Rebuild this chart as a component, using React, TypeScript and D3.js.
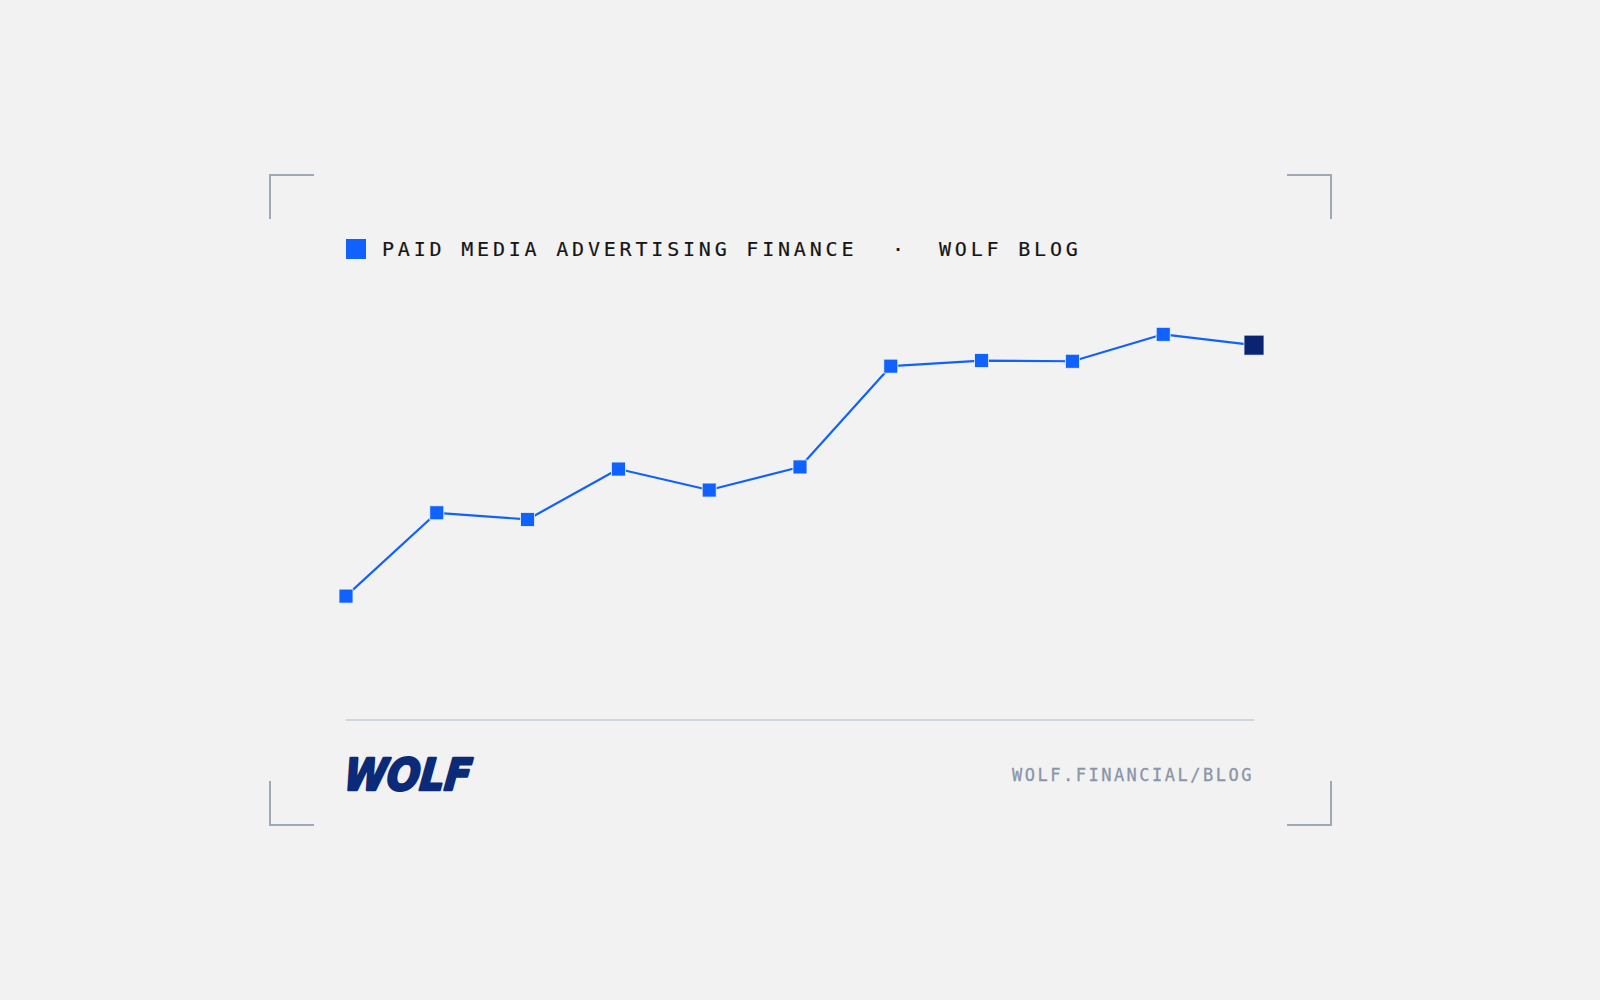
import * as d3 from 'd3'

// series (index units, no axis shown)
const periods = ['P1', 'P2', 'P3', 'P4', 'P5', 'P6', 'P7', 'P8', 'P9', 'P10', 'P11']
const values = [15.4, 39.2, 37.3, 51.7, 45.7, 52.3, 81.1, 82.7, 82.5, 90.2, 87.1]

const titleText = 'PAID MEDIA ADVERTISING FINANCE'
const subText = 'WOLF BLOG'
const urlText = 'WOLF.FINANCIAL/BLOG'
const logoText = 'WOLF'

const W = 1600
const H = 1000
const blue = '#0f62fe'
const navy = '#0a2472'
const bracket = '#a0a8b6'

export default function App() {
    const x = d3.scalePoint<string>().domain(periods).range([346, 1254])
    const y = d3.scaleLinear().domain([0, 100]).range([650, 300])

    const line = d3.line<number>()
        .x((d, i) => x(periods[i]) as number)
        .y(d => y(d))

    const last = values.length - 1
    const arm = 44

    // corner brackets
    const corners = [
        `M${270},${175 + arm} L270,175 L${270 + arm},175`,
        `M${1331 - arm},175 L1331,175 L1331,${175 + arm}`,
        `M270,${825 - arm} L270,825 L${270 + arm},825`,
        `M${1331 - arm},825 L1331,825 L1331,${825 - arm}`,
    ]

    return (
        <svg width={W} height={H} style={{ position: 'absolute', left: 0, top: 0, background: '#f2f2f2' }}>
            <rect x={0} y={0} width={W} height={H} fill="#f2f2f2" />
            {corners.map((d, i) => (
                <path key={i} d={d} fill="none" stroke={bracket} strokeWidth={2} />
            ))}

            {/* title */}
            <rect x={346} y={239} width={20} height={20} fill={blue} />
            <text y={256} fontFamily="'DejaVu Sans Mono', monospace" fontSize={20} fill="#161616"
                letterSpacing={3.8} stroke="#161616" strokeWidth={0.2}>
                <tspan x={382}>{titleText}</tspan>
                <tspan x={892}>·</tspan>
                <tspan x={939}>{subText}</tspan>
            </text>

            {/* line */}
            <path d={line(values) || ''} fill="none" stroke={blue} strokeWidth={2.2} strokeLinejoin="round" />
            {values.map((v, i) => {
                const s = i === last ? 20 : 14
                return (
                    <rect key={periods[i]}
                        x={(x(periods[i]) as number) - s / 2}
                        y={y(v) - s / 2}
                        width={s} height={s}
                        fill={i === last ? navy : blue}
                        stroke="#f2f2f2" strokeWidth={0.8} />
                )
            })}

            {/* footer */}
            <line x1={346} x2={1254} y1={720} y2={720} stroke="#c6cbd6" strokeWidth={1.5} />
            <text x={343} y={790} fontFamily="'DejaVu Sans', sans-serif" fontWeight="bold" fontStyle="italic"
                fontSize={44} fill="#0b2a78" stroke="#0b2a78" strokeWidth={2.6} strokeLinejoin="round"
                textLength={127} lengthAdjust="spacingAndGlyphs"
                transform="skewX(-6) translate(83,0)">{logoText}</text>
            <text x={1012} y={781} fontFamily="'DejaVu Sans Mono', monospace" fontSize={17} fill="#8b95a8"
                letterSpacing={2.5} stroke="#8b95a8" strokeWidth={0.3}>
                {urlText}
            </text>
        </svg>
    )
}
